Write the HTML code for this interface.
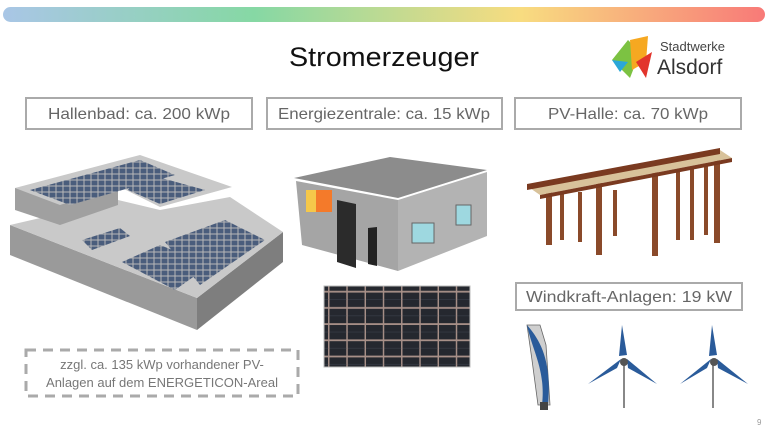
<!DOCTYPE html>
<html><head><meta charset="utf-8"><style>
html,body{margin:0;padding:0;background:#fff;}
svg{display:block;}
</style></head><body>
<svg width="768" height="431" viewBox="0 0 768 431" xmlns="http://www.w3.org/2000/svg">
<defs>
<linearGradient id="bar" x1="0" x2="1">
<stop offset="0" stop-color="#a9c6e6"/><stop offset="0.33" stop-color="#86d8a4"/>
<stop offset="0.68" stop-color="#f8dc80"/><stop offset="1" stop-color="#f87a78"/>
</linearGradient>
<pattern id="pv" width="7" height="6" patternUnits="userSpaceOnUse">
<rect width="7" height="6" fill="#b8b8b8"/><rect x="0.5" y="0.5" width="6" height="5" fill="#4a5d7c"/>
</pattern>
<pattern id="cell" width="18.25" height="16.2" patternUnits="userSpaceOnUse">
<rect width="18.25" height="16.2" fill="#a89088"/><rect x="1" y="1" width="16.8" height="14.4" fill="#25282f"/>
<line x1="1" y1="8" x2="18" y2="8" stroke="#3a3f4a" stroke-width="0.6"/>
</pattern>
</defs>
<rect x="3" y="7" width="762" height="15" rx="7.5" fill="url(#bar)"/>
<text x="384" y="66" text-anchor="middle" font-family="Liberation Sans, sans-serif" font-size="27" fill="#111" textLength="190" lengthAdjust="spacingAndGlyphs">Stromerzeuger</text>
<!-- logo -->
<polygon points="612,60 628,40 640,52 630,78" fill="#7cc242"/>
<polygon points="630,40 648,36 646,62 632,70" fill="#f6a821"/>
<polygon points="636,62 652,52 646,78" fill="#e2342c"/>
<polygon points="612,60 620,72 628,62" fill="#2aa7d8"/>
<text x="660" y="51" font-family="Liberation Sans, sans-serif" font-size="13" fill="#444">Stadtwerke</text>
<text x="657" y="74" font-family="Liberation Sans, sans-serif" font-size="21" fill="#333">Alsdorf</text>
<!-- labels -->
<g font-family="Liberation Sans, sans-serif" font-size="16" fill="#666" text-anchor="middle">
<rect x="26" y="98" width="226" height="31" fill="none" stroke="#aaa" stroke-width="2"/>
<text x="139" y="119" textLength="182" lengthAdjust="spacingAndGlyphs">Hallenbad: ca. 200 kWp</text>
<rect x="267" y="98" width="235" height="31" fill="none" stroke="#aaa" stroke-width="2"/>
<text x="384" y="119" textLength="212" lengthAdjust="spacingAndGlyphs">Energiezentrale: ca. 15 kWp</text>
<rect x="515" y="98" width="226" height="31" fill="none" stroke="#aaa" stroke-width="2"/>
<text x="628" y="119" textLength="160" lengthAdjust="spacingAndGlyphs">PV-Halle: ca. 70 kWp</text>
<rect x="516" y="283" width="226" height="27" fill="none" stroke="#aaa" stroke-width="2"/>
<text x="629" y="302" textLength="206" lengthAdjust="spacingAndGlyphs">Windkraft-Anlagen: 19 kW</text>
</g>
<!-- Hallenbad building -->
<polygon points="10,225 10,255 197,330 197,298" fill="#9a9a9a"/>
<polygon points="197,298 197,330 283,262 283,232" fill="#7e7e7e"/>
<polygon points="10,225 118,200 160,210 230,197 283,232 197,298" fill="#c9c9c9"/>
<polygon points="15,188 15,210 60,225 118,205 118,186" fill="#a0a0a0"/>
<polygon points="15,188 140,155 232,187 160,207 118,186 60,205" fill="#c9c9c9"/>
<polygon points="30,190 140,160 175,175 70,205" fill="url(#pv)"/>
<polygon points="140,172 205,190 160,204 128,190" fill="url(#pv)"/>
<polygon points="82,240 120,228 130,236 92,250" fill="url(#pv)"/>
<polygon points="122,262 160,245 210,265 175,290" fill="url(#pv)"/>
<polygon points="165,242 225,220 265,240 200,285" fill="url(#pv)"/>
<!-- Energiezentrale -->
<polygon points="294,178 390,157 487,170 398,198" fill="#8c8c8c"/>
<polygon points="296,181 398,200 398,271 302,245" fill="#a5a5a5"/>
<polygon points="398,200 487,172 487,236 398,271" fill="#b3b3b3"/>
<rect x="306" y="190" width="26" height="22" fill="#f47a2a"/>
<rect x="306" y="190" width="10" height="22" fill="#f5c84a"/>
<polygon points="337,200 356,204 356,268 337,262" fill="#2b2b2b"/>
<polygon points="368,228 377,227 377,266 368,264" fill="#222"/>
<rect x="412" y="223" width="22" height="20" fill="#9ed8e0" stroke="#666"/>
<rect x="456" y="205" width="15" height="20" fill="#9ed8e0" stroke="#666"/>
<!-- solar panel -->
<rect x="324" y="286" width="146" height="81" fill="url(#cell)" stroke="#bbb"/>
<!-- PV-Halle -->
<g fill="#8a4a2a">
<rect x="546" y="190" width="6" height="55"/><rect x="596" y="180" width="6" height="75"/>
<rect x="652" y="168" width="6" height="88"/><rect x="714" y="157" width="6" height="86"/>
<rect x="560" y="192" width="4" height="48"/><rect x="578" y="192" width="4" height="50"/>
<rect x="613" y="190" width="4" height="46"/><rect x="676" y="172" width="4" height="68"/>
<rect x="690" y="168" width="4" height="72"/><rect x="704" y="165" width="4" height="70"/>
</g>
<polygon points="527,186 720,150 732,158 540,195" fill="#d8c29a"/>
<polygon points="527,184 720,148 720,154 527,190" fill="#7a3a20"/>
<polygon points="540,195 732,158 732,162 540,199" fill="#7a3a20"/>
<!-- turbines -->
<polygon points="527,325 540,325 546,345 550,405 538,405 532,360" fill="#cfcfcf" stroke="#666" stroke-width="0.8"/>
<path d="M527,325 C540,340 552,360 548,405 L542,405 C546,370 532,350 527,325Z" fill="#2a5b9a"/>
<rect x="540" y="402" width="8" height="8" fill="#444"/>
<g stroke="#888" stroke-width="2"><line x1="624" y1="360" x2="624" y2="408"/><line x1="713" y1="360" x2="713" y2="408"/></g>
<g fill="#2a5b9a">
<polygon points="622,325 627,355 619,356"/><polygon points="621,359 588,384 617,368"/><polygon points="627,359 657,384 628,368"/>
<polygon points="712,325 717,355 709,356"/><polygon points="711,359 680,384 707,368"/><polygon points="717,359 748,384 718,368"/>
</g>
<circle cx="624" cy="362" r="4" fill="#555"/><circle cx="714" cy="362" r="4" fill="#555"/>
<!-- dashed box -->
<rect x="26" y="350" width="272" height="46" fill="none" stroke="#aaa" stroke-width="3" stroke-dasharray="10,7"/>
<g font-family="Liberation Sans, sans-serif" font-size="13" fill="#777" text-anchor="middle">
<text x="162" y="369">zzgl. ca. 135 kWp vorhandener PV-</text>
<text x="162" y="387">Anlagen auf dem ENERGETICON-Areal</text>
</g>
<text x="757" y="425" font-family="Liberation Sans, sans-serif" font-size="8" fill="#999">9</text>
</svg>
</body></html>
